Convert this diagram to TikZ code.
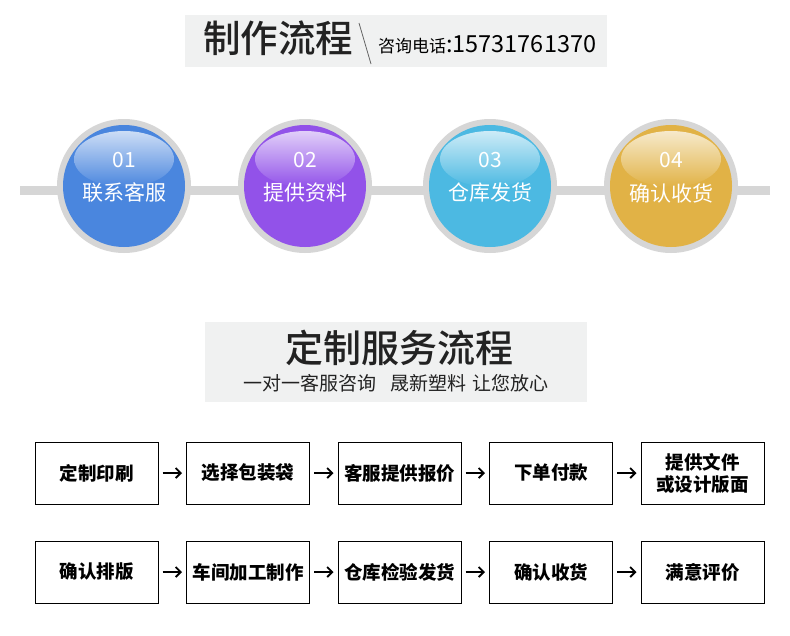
\documentclass[tikz,border=0pt]{standalone}
\usepackage{fontspec}
\setmainfont{Noto Sans CJK SC}
\newfontfamily\cjkmedium{Noto Sans CJK SC Medium}
\usetikzlibrary{positioning,arrows.meta}
\definecolor{bannergray}{RGB}{240,241,241}
\definecolor{ringgray}{RGB}{214,214,214}
\definecolor{textdark}{RGB}{34,34,34}
\definecolor{stepblue}{RGB}{74,134,222}
\definecolor{steppurple}{RGB}{146,82,233}
\definecolor{stepcyan}{RGB}{76,185,226}
\definecolor{stepgold}{RGB}{225,178,70}

\begin{document}
\begin{tikzpicture}[x=1pt, y=-1pt,
    banner/.style={rectangle, fill=bannergray, inner sep=0pt},
    ring/.style={circle, fill=ringgray, minimum size=134pt, inner sep=0pt},
    steplabel/.style={text=white, inner sep=0pt},
    stepbox/.style={rectangle, draw=black, line width=1pt, minimum width=123pt, minimum height=62pt, inner sep=2pt, align=center, font=\fontsize{18.5}{22}\selectfont\bfseries},
    flow/.style={-{Straight Barb[length=5pt,width=10pt]}, line width=1.8pt, shorten <=4pt, shorten >=4pt}]
  \useasboundingbox[fill=white] (0,0) rectangle (790,635);

  % top banner
  \node[banner, minimum width=422pt, minimum height=52pt] (head) at (396,41) {};
  \node[anchor=base west, inner sep=0pt, text=textdark, font=\fontsize{37.5}{37.5}\cjkmedium] (headtitle) at (203,52) {制作流程};
  \draw[line width=0.8pt, textdark!70] (359,23) -- (371,64);
  \node[anchor=base west, inner sep=0pt, text=black] (phone) at (378,52) {{\fontsize{17}{17}\selectfont 咨询电话}{\fontsize{23.5}{23.5}\selectfont :15731761370}};

  % the four steps on a bar
  \coordinate (barL) at (20,190);
  \coordinate (barR) at (770,190);
  \draw[line width=9pt, ringgray] (barL) -- (barR);
  \foreach \cx/\col/\num/\lbl in {124/stepblue/01/联系客服, 305/steppurple/02/提供资料, 490/stepcyan/03/仓库发货, 671/stepgold/04/确认收货} {
    \node[ring] (c\num) at (\cx,186) {};
    \fill[\col] (c\num) circle (61);
    \begin{scope}
      \clip (c\num) circle (61);
      \shade[top color=white!72!\col, bottom color=\col] (\cx,159) ellipse (50 and 28);
    \end{scope}
    \node[steplabel, font=\fontsize{21}{21}\selectfont] (n\num) at (\cx,160) {\num};
    \node[steplabel, font=\fontsize{21}{21}\selectfont] (t\num) at (\cx,193) {\lbl};
  }

  % second banner
  \node[banner, minimum width=382pt, minimum height=80pt] (head2) at (396,362) {};
  \node[inner sep=0pt, text=textdark, font=\fontsize{38}{38}\cjkmedium] (head2title) at (399,348) {定制服务流程};
  \node[inner sep=0pt, text=textdark, font=\fontsize{19}{19}\selectfont] (head2sub) at (396,383) {一对一客服咨询\hspace{0.75em}晟新塑料\hspace{0.3em}让您放心};

  % flow boxes
  \node[stepbox] (a1) at (96.5,473) {定制印刷};
  \node[stepbox, right=27.5pt of a1] (a2) {选择包装袋};
  \node[stepbox, right=27.5pt of a2] (a3) {客服提供报价};
  \node[stepbox, right=27.5pt of a3] (a4) {下单付款};
  \node[stepbox, right=27.5pt of a4] (a5) {提供文件\\或设计版面};
  \node[stepbox, below=36pt of a1] (b1) {确认排版};
  \node[stepbox, right=27.5pt of b1] (b2) {车间加工制作};
  \node[stepbox, right=27.5pt of b2] (b3) {仓库检验发货};
  \node[stepbox, right=27.5pt of b3] (b4) {确认收货};
  \node[stepbox, right=27.5pt of b4] (b5) {满意评价};

  \draw[flow] (a1) -- (a2);
  \draw[flow] (a2) -- (a3);
  \draw[flow] (a3) -- (a4);
  \draw[flow] (a4) -- (a5);
  \draw[flow] (b1) -- (b2);
  \draw[flow] (b2) -- (b3);
  \draw[flow] (b3) -- (b4);
  \draw[flow] (b4) -- (b5);
\end{tikzpicture}
\end{document}
